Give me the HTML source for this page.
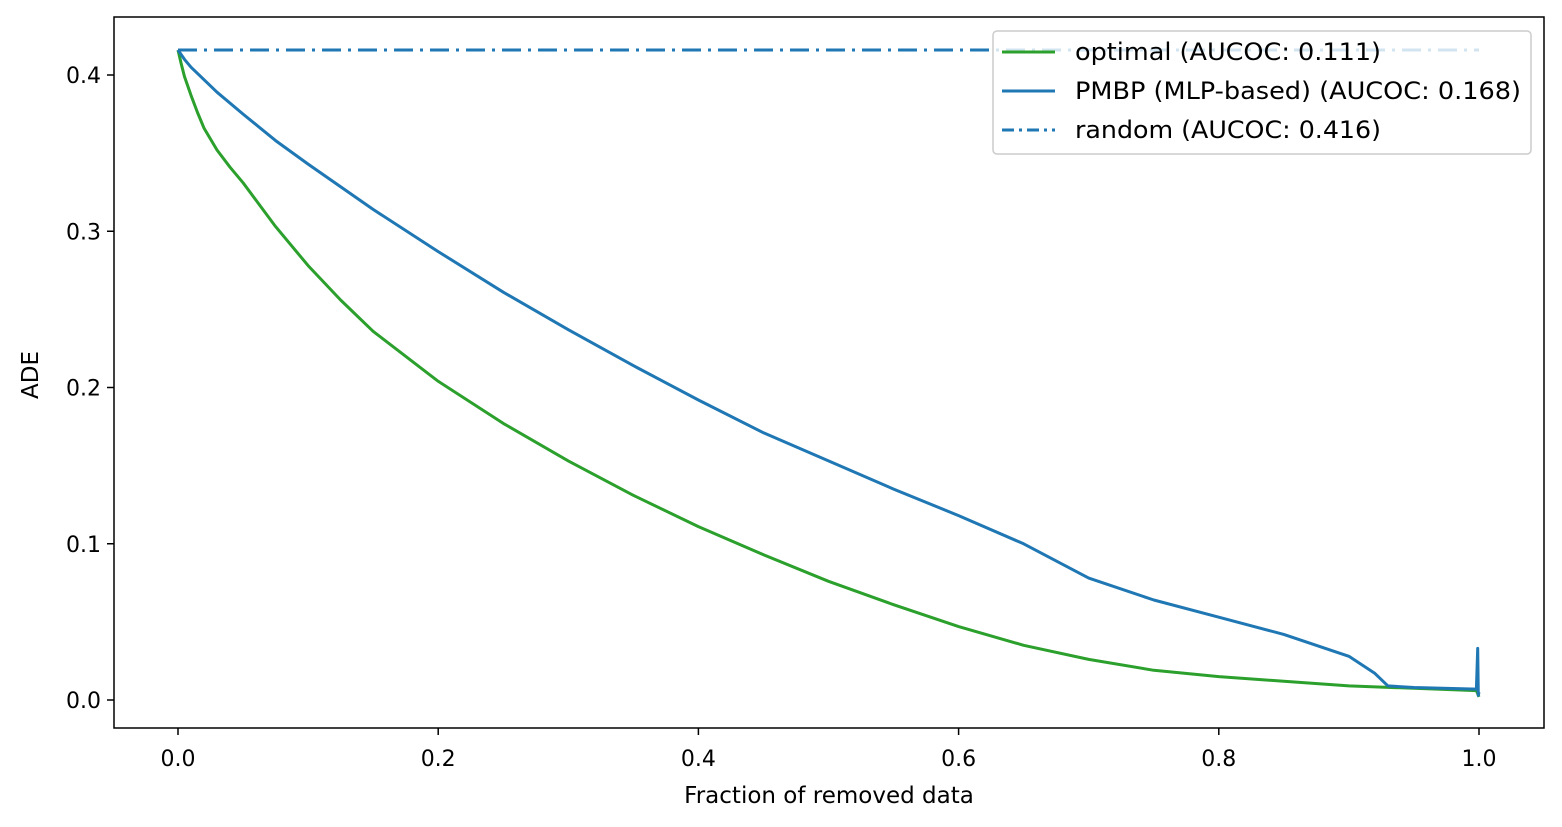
<!DOCTYPE html>
<html><head><meta charset="utf-8"><style>
body{margin:0;background:#fff;}
svg{display:block;font-family:"DejaVu Sans","Liberation Sans",sans-serif;}
</style></head><body>
<svg id="chart" width="1562" height="827"></svg>
<script>
const xTicks=[0.0,0.2,0.4,0.6,0.8,1.0];
const yTicks=[0.0,0.1,0.2,0.3,0.4];
const optX=[0,0.0025,0.005,0.01,0.015,0.02,0.03,0.04,0.05,0.075,0.1,0.125,0.15,0.2,0.25,0.3,0.35,0.4,0.45,0.5,0.55,0.6,0.65,0.7,0.75,0.8,0.85,0.9,0.95,0.998,1.0];
const optY=[0.416,0.407,0.399,0.387,0.376,0.366,0.352,0.341,0.331,0.303,0.278,0.256,0.236,0.204,0.177,0.153,0.131,0.111,0.093,0.076,0.061,0.047,0.035,0.026,0.019,0.015,0.012,0.009,0.0075,0.006,0.002];
const pmbpX=[0,0.005,0.01,0.02,0.03,0.05,0.075,0.1,0.15,0.2,0.25,0.3,0.35,0.4,0.45,0.5,0.55,0.6,0.65,0.7,0.75,0.8,0.85,0.9,0.92,0.93,0.95,0.998,0.999,0.9995,1.0];
const pmbpY=[0.416,0.41,0.405,0.397,0.389,0.375,0.358,0.343,0.314,0.287,0.261,0.237,0.214,0.192,0.171,0.153,0.135,0.118,0.10,0.078,0.064,0.053,0.042,0.028,0.017,0.009,0.008,0.007,0.033,0.003,0.005];
const randX=[0,1];
const randY=[0.416,0.416];
const NS="http://www.w3.org/2000/svg";
const svg=document.getElementById('chart');
const X=v=>178+v*1301;
const Y=v=>700-v*1562.5;
function mk(t,a,p){const e=document.createElementNS(NS,t);for(const k in a)e.setAttribute(k,a[k]);(p||svg).appendChild(e);return e;}
function line(xs,ys,color,dash,name){
  const d=xs.map((x,i)=>(i?'L':'M')+X(x).toFixed(1)+','+Y(ys[i]).toFixed(1)).join('');
  const p=mk('path',{d:d,fill:'none',stroke:color,'stroke-width':3,'stroke-dasharray':dash||'none','stroke-linejoin':'round'});
  
  
}
line(randX,randY,'#1f77b4','19,7,3,7','random-line');
line(optX,optY,'#2ca02c',null,'optimal-line');
line(pmbpX,pmbpY,'#1f77b4',null,'pmbp-line');
const fr=mk('rect',{x:114,y:17,width:1430,height:711,fill:'none',stroke:'#000','stroke-width':1.5});


xTicks.forEach(v=>{
  mk('line',{x1:X(v),x2:X(v),y1:728,y2:735,stroke:'#000','stroke-width':1.5});
  const t=mk('text',{x:X(v),y:766,'font-size':22,'text-anchor':'middle'});t.textContent=v.toFixed(1);
  
  
});
yTicks.forEach(v=>{
  mk('line',{x1:107,x2:114,y1:Y(v),y2:Y(v),stroke:'#000','stroke-width':1.5});
  const t=mk('text',{x:101,y:Y(v)+8,'font-size':22,'text-anchor':'end'});t.textContent=v.toFixed(1);
  
  
});
const xt=mk('text',{x:829,y:803,'font-size':23,'text-anchor':'middle'});xt.textContent='Fraction of removed data';


const yt=mk('text',{x:38,y:375,'font-size':23,'text-anchor':'middle',transform:'rotate(-90 38 375)'});yt.textContent='ADE';


const lg=mk('g',{});


mk('rect',{x:993,y:31,width:538,height:123,rx:4,fill:'#fff','fill-opacity':0.8,stroke:'#ccc','stroke-width':1.5},lg);
const entries=[['optimal (AUCOC: 0.111)','#2ca02c','none'],['PMBP (MLP-based) (AUCOC: 0.168)','#1f77b4','none'],['random (AUCOC: 0.416)','#1f77b4','12,5,3,5']];
entries.forEach((e,i)=>{
  const y=52+i*39;
  const g=mk('g',{},lg);
  
  
  mk('line',{x1:1002,x2:1055,y1:y,y2:y,stroke:e[1],'stroke-width':3,'stroke-dasharray':e[2]},g);
  const t=mk('text',{x:1075,y:y+8,'font-size':24,textLength:e[0].length>25?446:306,lengthAdjust:'spacingAndGlyphs'},g);t.textContent=e[0];
});
</script>
</body></html>
